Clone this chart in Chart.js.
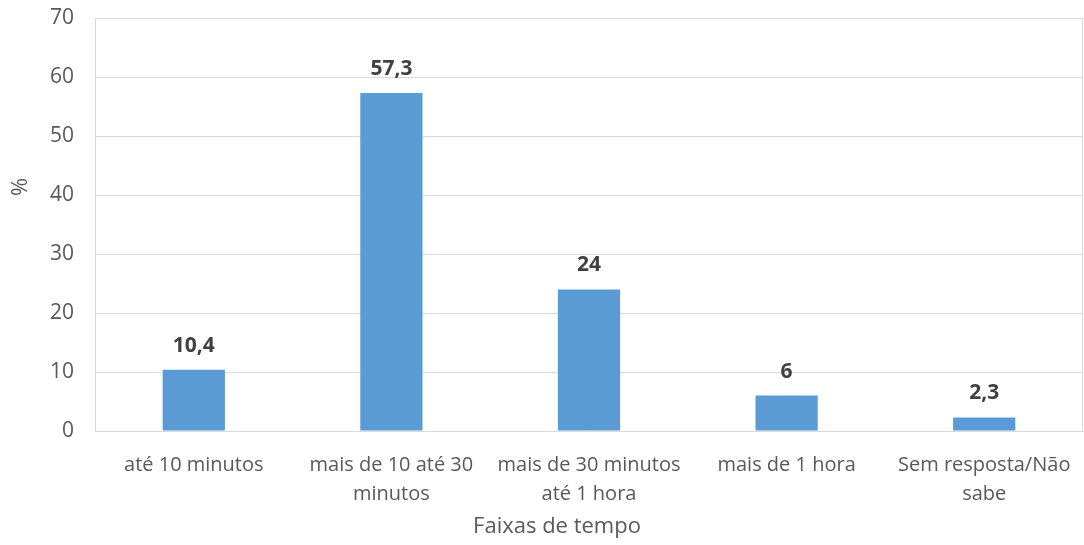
<!DOCTYPE html>
<html>
<head>
<meta charset="utf-8">
<script src="https://cdn.jsdelivr.net/npm/chart.js@4.4.1/dist/chart.umd.min.js"></script>
<style>
  html, body { margin: 0; padding: 0; background: #fff; }
  #wrap { width: 1084px; height: 545px; }
</style>
</head>
<body>
<div id="wrap"><canvas id="timeChart" width="1084" height="545"></canvas></div>
<script>
const categories = [
  'até 10 minutos',
  ['mais de 10 até 30', 'minutos'],
  ['mais de 30 minutos', 'até 1 hora'],
  'mais de 1 hora',
  ['Sem resposta/Não', 'sabe'],
]
const percentValues = [10.4, 57.3, 24, 6, 2.3]
const valueLabels = ['10,4', '57,3', '24', '6', '2,3']
const yTicks = [0, 10, 20, 30, 40, 50, 60, 70]

const gridColor = '#d9d9d9'
const textColor = '#595959'
const fontFamily = '"Open Sans", "Liberation Sans", sans-serif'

// labels above bars, axis titles and the right edge of the plot box
const extrasPlugin = {
  id: 'extras',
  afterDatasetsDraw(chart) {
    const ctx = chart.ctx
    const area = chart.chartArea
    ctx.save()
    ctx.strokeStyle = gridColor
    ctx.lineWidth = 1
    ctx.beginPath()
    ctx.moveTo(Math.round(area.right) - 0.5, area.top)
    ctx.lineTo(Math.round(area.right) - 0.5, area.bottom)
    ctx.stroke()

    ctx.fillStyle = '#404040'
    ctx.font = 'bold 21px ' + fontFamily
    ctx.textAlign = 'center'
    ctx.textBaseline = 'middle'
    chart.getDatasetMeta(0).data.forEach((bar, i) => {
      ctx.fillText(valueLabels[i], bar.x, bar.y - 24)
    })

    ctx.fillStyle = textColor
    ctx.font = '22px ' + fontFamily
    ctx.fillText('Faixas de tempo', 557, 527)
    ctx.translate(21, 187)
    ctx.rotate(-Math.PI / 2)
    ctx.fillText('%', 0, 0)
    ctx.restore()
  },
}

new Chart(document.getElementById('timeChart'), {
  type: 'bar',
  data: {
    labels: categories,
    datasets: [
      {
        data: percentValues,
        backgroundColor: '#5b9bd5',
        barPercentage: 0.315,
        categoryPercentage: 1,
      },
    ],
  },
  options: {
    responsive: false,
    animation: false,
    layout: { padding: { top: 18, right: 1, left: 0, bottom: 0 } },
    plugins: { legend: { display: false }, tooltip: { enabled: false } },
    scales: {
      y: {
        min: 0,
        max: 70,
        afterBuildTicks: (scale) => {
          scale.ticks = yTicks.map((v) => ({ value: v }))
        },
        afterFit: (scale) => {
          scale.width = 95
          scale.paddingTop = 0
          scale.paddingBottom = 0
        },
        grid: { color: gridColor, drawTicks: false },
        border: { color: gridColor },
        ticks: {
          padding: 21,
          color: textColor,
          font: { family: fontFamily, size: 21 },
        },
      },
      x: {
        afterFit: (scale) => {
          scale.height = 114
          scale.paddingLeft = 0
          scale.paddingRight = 0
        },
        grid: { display: false },
        border: { color: gridColor },
        ticks: {
          padding: 12,
          maxRotation: 0,
          autoSkip: false,
          color: textColor,
          font: { family: fontFamily, size: 20, lineHeight: 1.45 },
        },
      },
    },
  },
  plugins: [extrasPlugin],
})
</script>
</body>
</html>
